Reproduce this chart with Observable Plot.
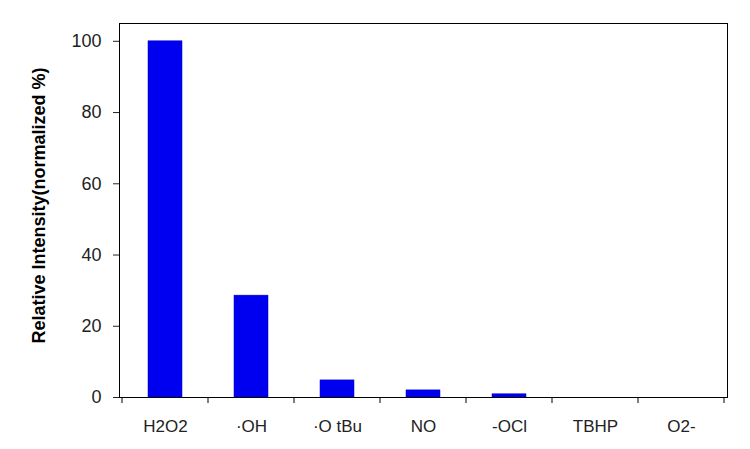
<!DOCTYPE html>
<html>
<head>
<meta charset="utf-8">
<script src="https://cdn.jsdelivr.net/npm/d3@7"></script>
<script src="https://cdn.jsdelivr.net/npm/@observablehq/plot@0.6"></script>
<style>
  html, body { margin: 0; padding: 0; background: #fff; }
  svg { display: block; }
</style>
</head>
<body>
<div id="chart"></div>
<script>
const categories = ["H2O2", "·OH", "·O tBu", "NO", "-OCl", "TBHP", "O2-"];
const values = [100, 28.6, 4.8, 2.0, 0.9, 0, 0];
const yTicks = [0, 20, 40, 60, 80, 100];
const yLabel = "Relative Intensity(normalized %)";

const data = categories.map((c, i) => ({ name: c, value: values[i] }));

// boundary tick marks between category columns
function boundaryTicks(index, scales, values, dimensions) {
  const x = scales.x;
  const bw = scales.scales.x.bandwidth;
  const step = scales.scales.x.step;
  const y0 = scales.y(0);
  const g = d3.create("svg:g");
  const xs = categories.map(c => x(c) + bw / 2 - step / 2);
  xs.push(x(categories[categories.length - 1]) + bw / 2 + step / 2);
  for (const px of xs) {
    g.append("line")
      .attr("x1", px).attr("x2", px)
      .attr("y1", y0).attr("y2", y0 + 6)
      .attr("stroke", "black").attr("stroke-width", 1);
  }
  return g.node();
}

const chart = Plot.plot({
  width: 750,
  height: 449,
  marginLeft: 119,
  marginRight: 23,
  marginTop: 23,
  marginBottom: 52,
  style: { fontFamily: "'Liberation Sans', Arial, sans-serif", fontSize: "18px", color: "#222" },
  x: { domain: categories, paddingInner: 0.6, paddingOuter: 0.3, label: null },
  y: { domain: [0, 105], label: null },
  marks: [
    Plot.barY(data, { x: "name", y: "value", fill: "#0000f0", stroke: "#0000c0", strokeWidth: 0.5 }),
    Plot.frame({ stroke: "black", strokeWidth: 1 }),
    Plot.axisY({ ticks: yTicks, tickSize: 6, tickPadding: 12, label: null, fontSize: 18 }),
    Plot.axisX({ tickSize: 0, tickPadding: 22, label: null, fontSize: 17 }),
    boundaryTicks,
    Plot.text([yLabel], {
      frameAnchor: "left", dx: -80, dy: -5, rotate: -90, text: d => d, textAnchor: "middle",
      fontWeight: "bold", fontSize: 18, fill: "black"
    })
  ]
});
document.getElementById("chart").append(chart);
</script>
</body>
</html>
